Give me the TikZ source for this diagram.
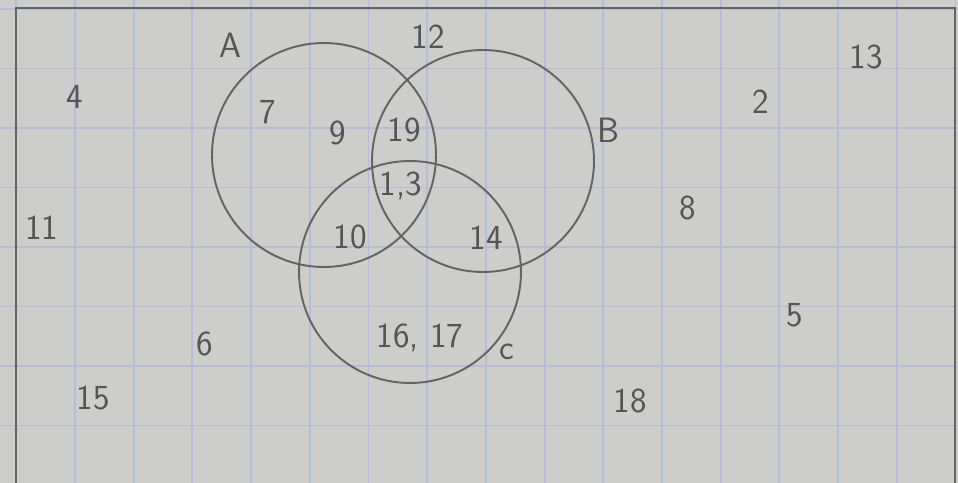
\documentclass[tikz,border=0pt]{standalone}
\usepackage{tikz}
\usetikzlibrary{positioning}
\definecolor{paper}{RGB}{205,205,204}
\definecolor{gridblue}{RGB}{184,187,212}
\definecolor{pencil}{RGB}{100,100,100}
\definecolor{lead}{RGB}{85,85,85}
\tikzset{
  gridline/.style={gridblue, line width=1.1pt},
  border/.style  ={pencil, line width=1.3pt},
  setline/.style ={pencil, line width=1.1pt},
  elem/.style    ={text=lead, font=\sffamily\fontsize{20}{22}\selectfont, inner sep=0pt},
  setname/.style ={elem}
}
\begin{document}
\begin{tikzpicture}[x=0.02cm, y=-0.02cm]

    % ---------- paper and squares ----------
    \useasboundingbox (0,0) rectangle (958,483);
    \clip (0,0) rectangle (958,483);
    \fill[paper] (0,0) rectangle (958,483);
    \foreach \gx in {0,...,16}
      \draw[gridline] (16.3+58.7*\gx,0) -- (16.3+58.7*\gx,483);
    \foreach \gy in {0,...,8}
      \draw[gridline] (0,9+59.5*\gy) -- (958,9+59.5*\gy);

    % ---------- universe frame ----------
    \draw[border] (16,495) -- (16,8) -- (955,8) -- (955,495);

    % ---------- the three sets ----------
    \draw[setline] (324,155) circle (112);
    \draw[setline] (483,161) circle (111);
    \draw[setline] (410,272) circle (111);

    \node[setname] (nameA) at (230,45)  {A};
    \node[setname] (nameB) at (608,130) {B};
    \node[setname] (nameC) at (507,352) {c};

    % ---------- elements inside ----------
    \node[elem] (e7)   at (268,112) {7};
    \node[elem] (e9)   at (338,133) {9};
    \node[elem] (e19)  at (404,130) {19};
    \node[elem] (e13i) at (401,186) {1,3};
    \node[elem] (e10)  at (350,237) {10};
    \node[elem] (e14)  at (486,238) {14};
    \node[elem] (e1617) at (420,338) {16, 17};

    % ---------- elements outside ----------
    \node[elem] (e12) at (428,37)  {12};
    \node[elem] (e13) at (866,57)  {13};
    \node[elem] (e4)  at (75,97)   {4};
    \node[elem] (e2)  at (761,102) {2};
    \node[elem] (e11) at (42,228)  {11};
    \node[elem] (e8)  at (688,208) {8};
    \node[elem] (e5)  at (795,315) {5};
    \node[elem] (e6)  at (205,344) {6};
    \node[elem] (e15) at (93,398)  {15};
    \node[elem] (e18) at (630,401) {18};

\end{tikzpicture}
\end{document}
